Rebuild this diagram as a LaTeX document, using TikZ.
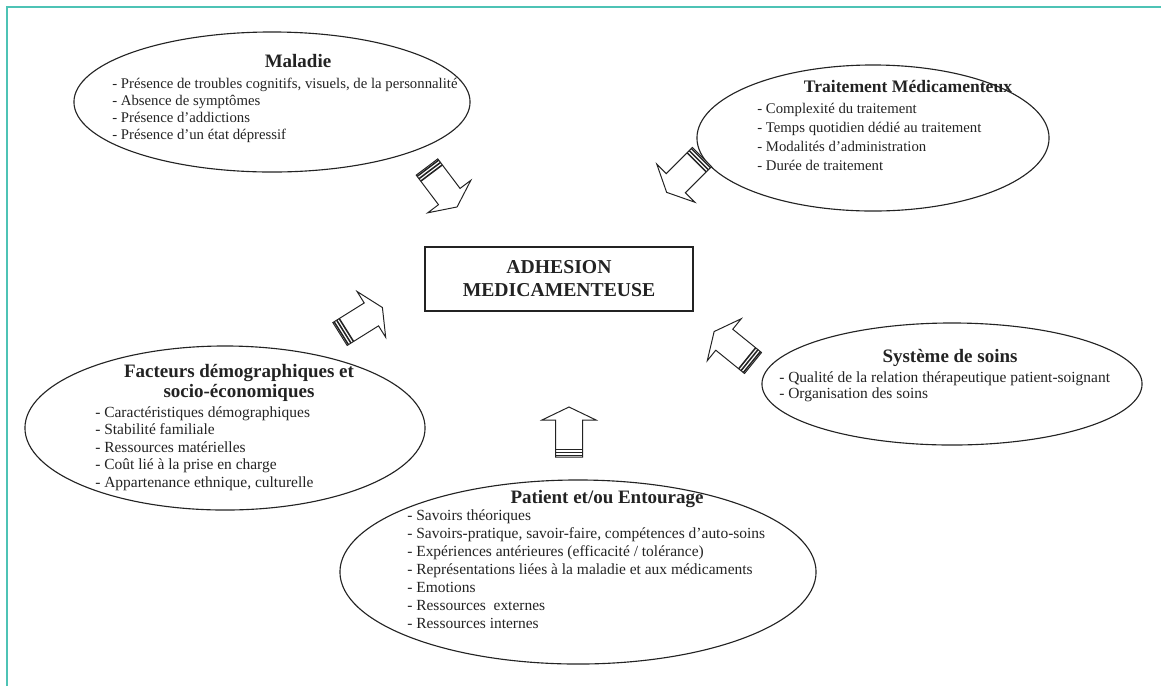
\documentclass[tikz,border=0pt]{standalone}
\usepackage{fontspec}
\setmainfont{Liberation Serif}
\usetikzlibrary{shapes.geometric}

\definecolor{sarcelle}{RGB}{78,195,181}
\definecolor{encre}{RGB}{35,35,35}

\newcommand\titre [0]{\fontsize{13.5}{14.2}\selectfont\bfseries}
\newcommand\corps [2]{\fontsize{#1}{#2}\selectfont}

\tikzset{
  every node/.style={inner sep=0pt,text=encre}
}
\tikzset{facteur/.style 2 args={draw=encre,ellipse,line width=0.8pt,minimum width=#1,minimum height=#2}}
\tikzset{fleche/.pic={
    \draw[encre,line width=0.7pt,fill=white] (0,-13.5) -- (37,-13.5) -- (37,-27) -- (50,0)
      -- (37,27) -- (37,13.5) -- (0,13.5) -- cycle;
    \foreach \d in {1.5,4.5,7.5}
      \draw[encre,line width=1.1pt] (\d,-13.5) -- (\d,13.5);
  }}

\begin{document}
\begin{tikzpicture}[x=0.025cm,y=-0.025cm]
  \useasboundingbox (0,0) rectangle (1161,686);
  \draw[sarcelle,line width=1.9pt] (7,686) -- (7,7) -- (1161,7);

  \node [facteur={9.9cm}{3.5cm}]   (maladie)     at (272,102) {};
  \node [facteur={8.8cm}{3.65cm}]  (traitement)  at (873,138) {};
  \node [facteur={10cm}{4.1cm}]    (demographie) at (225,428) {};
  \node [facteur={9.5cm}{3.05cm}]  (soins)       at (952,384) {};
  \node [facteur={11.9cm}{4.6cm}]  (patient)     at (578,572) {};
  \node [draw=encre,line width=1pt,minimum width=6.7cm,minimum height=1.6cm,align=center,
         font=\fontsize{14}{16.4}\selectfont\bfseries] (adhesion) at (559,279) {ADHESION\\MEDICAMENTEUSE};

  \node [font=\titre,anchor=base]                    (tMaladie)     at (298,67)  {Maladie};
  \node [font={\corps{10.5}{12}},align=left,anchor=north west] (lMaladie) at (112,78)
        {- Présence de troubles cognitifs, visuels, de la personnalité\\- Absence de symptômes\\- Présence d’addictions\\- Présence d’un état dépressif};
  \node [font=\titre\fontsize{12.5}{14}\selectfont,anchor=base] (tTraitement) at (908,92) {Traitement Médicamenteux};
  \node [font={\corps{10.5}{13.5}},align=left,anchor=north west] (lTraitement) at (757,103)
        {- Complexité du traitement\\- Temps quotidien dédié au traitement\\- Modalités d’administration\\- Durée de traitement};
  \node [font=\titre,align=center,anchor=north]      (tDemographie) at (239,364) {Facteurs démographiques et\\socio-économiques};
  \node [font={\corps{11}{12.45}},align=left,anchor=north west] (lDemographie) at (95,406)
        {- Caractéristiques démographiques\\- Stabilité familiale\\- Ressources matérielles\\- Coût lié à la prise en charge\\- Appartenance ethnique, culturelle};
  \node [font=\titre,anchor=base]                    (tSoins)       at (950,362) {Système de soins};
  \node [font={\corps{11}{11.4}},align=left,anchor=north west] (lSoins) at (779,371)
        {- Qualité de la relation thérapeutique patient-soignant\\- Organisation des soins};
  \node [font=\titre,anchor=base]                    (tPatient)     at (607,503) {Patient et/ou Entourage};
  \node [font={\corps{11}{12.8}},align=left,anchor=north west] (lPatient) at (407,509)
        {- Savoirs théoriques\\- Savoirs-pratique, savoir-faire, compétences d’auto-soins\\- Expériences antérieures (efficacité / tolérance)\\- Représentations liées à la maladie et aux médicaments\\- Emotions\\- Ressources\ \ externes\\- Ressources internes};

  \pic [rotate=-53]  at (427,167) {fleche};
  \pic [rotate=-135] at (702,157) {fleche};
  \pic [rotate=32]   at (340,334) {fleche};
  \pic [rotate=141]  at (753,363) {fleche};
  \pic [rotate=90]   at (569,457) {fleche};
\end{tikzpicture}
\end{document}
